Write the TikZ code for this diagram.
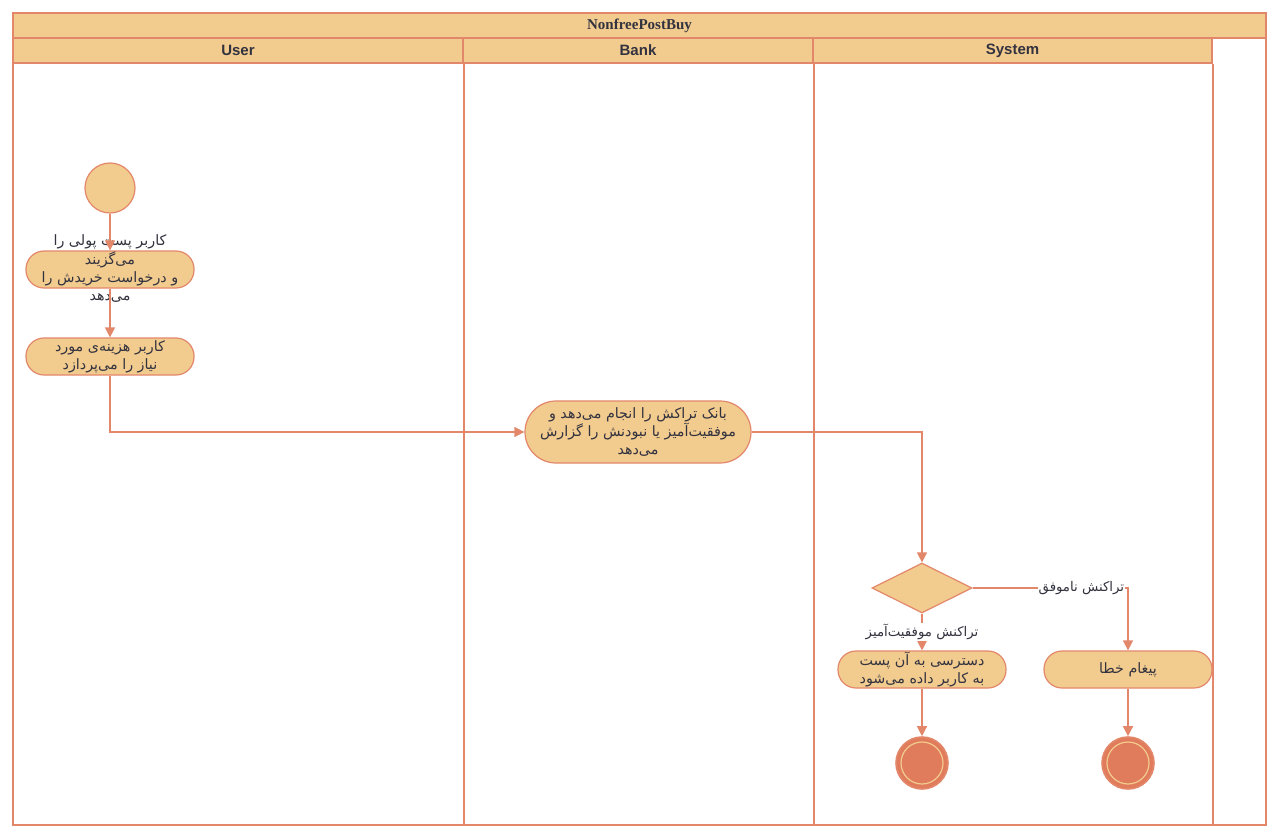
\documentclass[tikz,border=0pt]{standalone}
\usepackage{fontspec}
\setmainfont{Liberation Sans}
\newfontfamily\persianfont[Script=Arabic]{DejaVu Sans}
\newfontfamily\titleserif{Liberation Serif}
\TeXXeTstate=1
\usetikzlibrary{shapes.geometric, arrows.meta, positioning, calc}
\definecolor{lanefill}{HTML}{F2CB8F}
\definecolor{laneline}{HTML}{E3876A}
\definecolor{endfill}{HTML}{E07C5C}
\definecolor{txtdark}{HTML}{33333F}
\newcommand{\rtl}[1]{\beginR #1\endR}
\tikzset{
  % Swimlane headers
  titlebar/.style={
    rectangle, draw=laneline, fill=lanefill, line width=1.2pt,
    minimum height=25pt, inner sep=0pt, text=txtdark,
    font=\titleserif\bfseries\fontsize{15}{18}\selectfont,
  },
  lanehead/.style={
    rectangle, draw=laneline, fill=lanefill, line width=1.2pt,
    minimum height=25pt, inner sep=0pt, text=txtdark,
    font=\bfseries\fontsize{15}{18}\selectfont,
  },
  % Activity boxes
  activity/.style={
    rectangle, rounded corners=18pt, minimum width=168pt, minimum height=37pt,
    draw=laneline, fill=lanefill, line width=1.2pt, text=txtdark,
    font=\persianfont\fontsize{14.3}{18}\selectfont, align=center, inner sep=1pt,
  },
  % Start, end and decision
  startnode/.style={
    circle, minimum size=50pt, inner sep=0pt,
    draw=laneline, fill=lanefill, line width=1.2pt,
  },
  endnode/.style={
    circle, minimum size=52pt, inner sep=0pt,
    draw=laneline, fill=endfill, line width=1.6pt,
  },
  decision/.style={
    diamond, aspect=2, minimum width=100pt, minimum height=50pt, inner sep=0pt,
    draw=laneline, fill=lanefill, line width=1.2pt,
  },
  % Arrows
  flow/.style={-{Triangle[length=10pt, width=10pt]}, draw=laneline, line width=1.2pt},
  guard/.style={fill=white, inner sep=1pt, text=txtdark,
    font=\persianfont\fontsize{13.3}{16}\selectfont},
}

\begin{document}
\begin{tikzpicture}[x=1pt, y=-1pt]
  \useasboundingbox[fill=white] (0,0) rectangle (1280,840);

  % Pool and lanes
  \draw[laneline, line width=1.2pt] (13,13) rectangle (1266,825);
  \node[titlebar, minimum width=1253pt] (title) at (639.5,25.5) {NonfreePostBuy};
  \node[lanehead, minimum width=450pt] (user) at (238,50.5) {User};
  \node[lanehead, minimum width=350pt] (bank) at (638,50.5) {Bank};
  \node[lanehead, minimum width=399pt] (sys) at (1012.5,50.5) {System};
  \draw[laneline, line width=1.3pt] ([xshift=0.5pt]user.south east) -- ++(0,762);
  \draw[laneline, line width=1.3pt] ([xshift=0.5pt]bank.south east) -- ++(0,762);
  \draw[laneline, line width=1.3pt] ([xshift=0.5pt]sys.south east) -- ++(0,762);

  % User lane
  \node[startnode] (start) at (110,188) {};
  \node[activity] (pick) at (110,269.5) {\raisebox{-7pt}{\smash{\begin{tabular}{@{}c@{}}
    \rtl{کاربر پست پولی را}\\
    \rtl{می^^^^200cگزیند}\\
    \rtl{و درخواست خریدش را}\\
    \rtl{می^^^^200cدهد}
  \end{tabular}}}};
  \node[activity] (pay) at (110,356.5) {\rtl{کاربر هزینه^^^^200cی مورد}\\
    \rtl{نیاز را می^^^^200cپردازد}};

  % Bank lane
  \node[activity, minimum width=226pt, minimum height=62pt, rounded corners=31pt]
    (bankdo) at (638,432) {\rtl{بانک تراکش را انجام می^^^^200cدهد و}\\
    \rtl{موفقیت^^^^200cآمیز یا نبودنش را گزارش}\\
    \rtl{می^^^^200cدهد}};

  % System lane
  \node[decision] (check) at (922,588) {};
  \node[activity] (granted) at (922,669.5) {\rtl{دسترسی به آن پست}\\
    \rtl{به کاربر داده می^^^^200cشود}};
  \node[activity] (errmsg) at (1128,669.5) {\rtl{پیغام خطا}};
  \node[endnode] (endok) at (922,763) {};
  \node[endnode] (enderr) at (1128,763) {};
  \draw[lanefill, line width=1.2pt] (endok) circle (21pt);
  \draw[lanefill, line width=1.2pt] (enderr) circle (21pt);

  % Flows
  \draw[flow] (start) -- (pick);
  \draw[flow] (pick) -- (pay);
  \draw[flow] (pay.south) |- (bankdo.west);
  \draw[flow] (bankdo.east) -| (check.north);
  \draw[flow] (check.east) -| (errmsg.north)
    node[guard, pos=0.35] {\rtl{تراکنش ناموفق}};
  \draw[flow] (check.south) -- (granted.north)
    node[guard, midway] {\rtl{تراکنش موفقیت^^^^200cآمیز}};
  \draw[flow] (granted) -- (endok);
  \draw[flow] (errmsg) -- (enderr);

\end{tikzpicture}
\end{document}
